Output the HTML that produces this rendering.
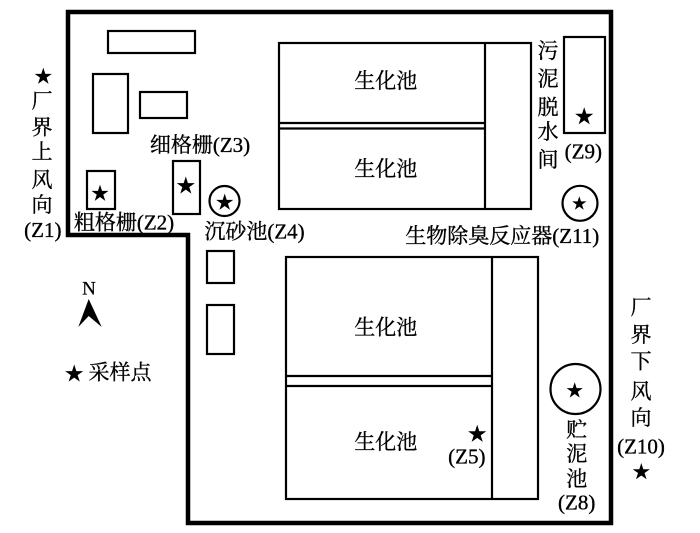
<!DOCTYPE html>
<html><head><meta charset="utf-8"><style>
html,body{margin:0;padding:0;background:#fff;}
svg{display:block;}
text{font-family:"Liberation Serif","Noto Serif CJK SC",serif;font-size:21px;fill:#000;stroke:#000;stroke-width:0.35;}
</style></head><body>
<svg width="700" height="533" viewBox="0 0 700 533" xmlns="http://www.w3.org/2000/svg">
<defs>
<polygon id="st" points="0,-1 0.2245,-0.309 0.9511,-0.309 0.3633,0.118 0.5878,0.809 0,0.382 -0.5878,0.809 -0.3633,0.118 -0.9511,-0.309 -0.2245,-0.309" fill="#000"/>
</defs>
<rect width="700" height="533" fill="#fff"/>
<!-- outer boundary -->
<polygon points="68,12 611,12 611,523 188,523 188,235 68,235" fill="none" stroke="#000" stroke-width="4.5"/>

<g fill="none" stroke="#000" stroke-width="2.2">
<!-- small left rects -->
<rect x="108" y="31" width="87" height="22"/>
<rect x="93" y="74" width="35" height="59"/>
<rect x="140" y="92" width="47" height="26"/>
<rect x="87" y="171" width="28" height="38"/>
<rect x="173" y="161" width="27" height="53"/>
<rect x="207" y="251" width="27" height="32"/>
<rect x="207" y="305" width="27" height="49"/>
<!-- top bio block -->
<rect x="279" y="43" width="252" height="166"/>
<line x1="485" y1="43" x2="485" y2="209"/>
<line x1="279" y1="123" x2="485" y2="123"/>
<line x1="279" y1="128.5" x2="485" y2="128.5"/>
<!-- sludge room -->
<rect x="564" y="37" width="41" height="96"/>
<!-- bottom bio block -->
<rect x="286" y="257" width="252" height="242"/>
<line x1="492" y1="257" x2="492" y2="499"/>
<line x1="286" y1="376" x2="492" y2="376"/>
<line x1="286" y1="386" x2="492" y2="386"/>
<!-- circles -->
<circle cx="224.5" cy="201" r="15"/>
<circle cx="580" cy="203.3" r="17.5"/>
<circle cx="575.5" cy="389" r="25"/>
</g>

<!-- stars -->
<use href="#st" transform="translate(43.3,76.6) scale(9)"/>
<use href="#st" transform="translate(100,193.6) scale(9)"/>
<use href="#st" transform="translate(185.8,186) scale(9.5)"/>
<use href="#st" transform="translate(224.7,202.6) scale(9)"/>
<use href="#st" transform="translate(584.2,116.7) scale(9.5)"/>
<use href="#st" transform="translate(579.3,203.7) scale(7.5)"/>
<use href="#st" transform="translate(74.2,374) scale(9.5)"/>
<use href="#st" transform="translate(477.2,434.2) scale(9.5)"/>
<use href="#st" transform="translate(574.7,390.8) scale(8.5)"/>
<use href="#st" transform="translate(641.3,472) scale(9)"/>

<!-- north arrow -->
<polygon points="88.7,299 78.3,327 88.7,316 101.7,327" fill="#000"/>
<text x="89" y="289" text-anchor="middle" dominant-baseline="central" style="font-size:19px;stroke-width:0.2">N</text>

<g text-anchor="middle" dominant-baseline="central">
<text x="385.8" y="81.2">生化池</text>
<text x="385.8" y="169">生化池</text>
<text x="385.8" y="327.5">生化池</text>
<text x="385.8" y="442">生化池</text>

<text x="200" y="145">细格栅(Z3)</text>
<text x="124" y="222.5">粗格栅(Z2)</text>
<text x="254.5" y="231.7">沉砂池(Z4)</text>
<text x="502.3" y="235.8">生物除臭反应器(Z11)</text>
<text x="120" y="372.5">采样点</text>

<!-- left vertical -->
<text x="42" y="101">厂</text>
<text x="42" y="127.5">界</text>
<text x="42" y="152">上</text>
<text x="42" y="180">风</text>
<text x="42" y="205">向</text>
<text x="42.8" y="230">(Z1)</text>

<!-- sludge dewatering -->
<text x="548" y="51">污</text>
<text x="548" y="79">泥</text>
<text x="548" y="107.5">脱</text>
<text x="548" y="131.8">水</text>
<text x="548" y="160">间</text>
<text x="583.3" y="151.7">(Z9)</text>

<text x="466.8" y="456.7">(Z5)</text>

<!-- sludge storage -->
<text x="576.7" y="430">贮</text>
<text x="576.7" y="454">泥</text>
<text x="576.7" y="479">池</text>
<text x="576.7" y="502.5">(Z8)</text>

<!-- right vertical -->
<text x="641" y="307.5">厂</text>
<text x="641" y="335">界</text>
<text x="641" y="361.7">下</text>
<text x="641" y="391.7">风</text>
<text x="641" y="418">向</text>
<text x="641" y="446.7">(Z10)</text>
</g>
</svg>
</body></html>
